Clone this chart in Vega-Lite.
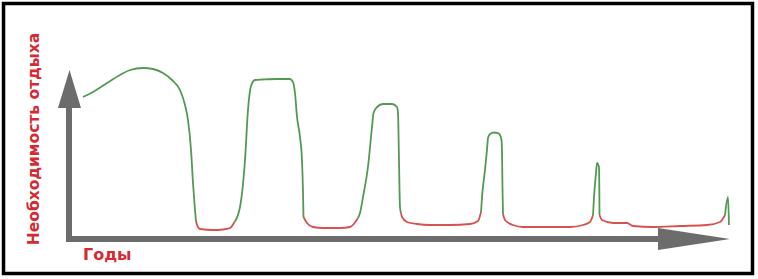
{
  "$schema": "https://vega.github.io/schema/vega-lite/v6.json",
  "width": 758,
  "height": 279,
  "padding": 0,
  "autosize": {"type": "none"},
  "background": "white",
  "view": {"stroke": null},
  "config": {"axis": {"grid": false}},
  "datasets": {
    "frame": [{"x": -9.77, "x2": 103.71, "y": 138.53, "y2": -20.29}],
    "shafts": [
      {"x": 0.15, "x2": 0.15, "y": 0, "y2": 78.8},
      {"x": 0.15, "x2": 90.45, "y": 0, "y2": 0}
    ],
    "headUp": [
      {"y": 77.06, "x": -1.52, "x2": 1.97},
      {"y": 99.41, "x": 0.23, "x2": 0.23}
    ],
    "headRight": [
      {"x": 89.39, "y": -6.47, "y2": 6.47},
      {"x": 100.3, "y": 0, "y2": 0}
    ],
    "curve": [
      {"s": 1, "c": "g", "i": 1, "x": 2.27, "y": 83.53},
      {"s": 1, "c": "g", "i": 2, "x": 3.79, "y": 86.47},
      {"s": 1, "c": "g", "i": 3, "x": 5.91, "y": 91.76},
      {"s": 1, "c": "g", "i": 4, "x": 7.88, "y": 96.47},
      {"s": 1, "c": "g", "i": 5, "x": 9.39, "y": 99.41},
      {"s": 1, "c": "g", "i": 6, "x": 11.36, "y": 100.59},
      {"s": 1, "c": "g", "i": 7, "x": 12.88, "y": 100.0},
      {"s": 1, "c": "g", "i": 8, "x": 14.39, "y": 97.65},
      {"s": 1, "c": "g", "i": 9, "x": 15.76, "y": 93.53},
      {"s": 1, "c": "g", "i": 10, "x": 16.97, "y": 87.65},
      {"s": 1, "c": "g", "i": 11, "x": 17.73, "y": 78.82},
      {"s": 1, "c": "g", "i": 12, "x": 18.18, "y": 70.0},
      {"s": 1, "c": "g", "i": 13, "x": 18.64, "y": 52.35},
      {"s": 1, "c": "g", "i": 14, "x": 18.94, "y": 32.94},
      {"s": 1, "c": "g", "i": 15, "x": 19.24, "y": 17.06},
      {"s": 1, "c": "g", "i": 16, "x": 19.39, "y": 10.59},
      {"s": 2, "c": "r", "i": 16, "x": 19.39, "y": 10.59},
      {"s": 2, "c": "r", "i": 17, "x": 19.55, "y": 8.24},
      {"s": 2, "c": "r", "i": 18, "x": 20.0, "y": 5.88},
      {"s": 2, "c": "r", "i": 19, "x": 21.97, "y": 5.29},
      {"s": 2, "c": "r", "i": 20, "x": 23.48, "y": 5.59},
      {"s": 2, "c": "r", "i": 21, "x": 24.55, "y": 6.47},
      {"s": 2, "c": "r", "i": 22, "x": 25.23, "y": 10.0},
      {"s": 3, "c": "g", "i": 22, "x": 25.23, "y": 10.0},
      {"s": 3, "c": "g", "i": 23, "x": 26.06, "y": 18.82},
      {"s": 3, "c": "g", "i": 24, "x": 26.82, "y": 46.47},
      {"s": 3, "c": "g", "i": 25, "x": 27.27, "y": 75.88},
      {"s": 3, "c": "g", "i": 26, "x": 27.73, "y": 90.0},
      {"s": 3, "c": "g", "i": 27, "x": 28.33, "y": 93.53},
      {"s": 3, "c": "g", "i": 28, "x": 29.55, "y": 93.82},
      {"s": 3, "c": "g", "i": 29, "x": 31.67, "y": 94.12},
      {"s": 3, "c": "g", "i": 30, "x": 33.64, "y": 94.12},
      {"s": 3, "c": "g", "i": 31, "x": 34.09, "y": 92.35},
      {"s": 3, "c": "g", "i": 32, "x": 34.39, "y": 85.88},
      {"s": 3, "c": "g", "i": 33, "x": 34.7, "y": 71.76},
      {"s": 3, "c": "g", "i": 34, "x": 35.15, "y": 60.0},
      {"s": 3, "c": "g", "i": 35, "x": 35.45, "y": 46.47},
      {"s": 3, "c": "g", "i": 36, "x": 35.61, "y": 27.06},
      {"s": 3, "c": "g", "i": 37, "x": 35.68, "y": 12.94},
      {"s": 4, "c": "r", "i": 37, "x": 35.68, "y": 12.94},
      {"s": 4, "c": "r", "i": 38, "x": 36.21, "y": 9.41},
      {"s": 4, "c": "r", "i": 39, "x": 37.12, "y": 7.06},
      {"s": 4, "c": "r", "i": 40, "x": 38.64, "y": 6.47},
      {"s": 4, "c": "r", "i": 41, "x": 41.21, "y": 6.47},
      {"s": 4, "c": "r", "i": 42, "x": 42.73, "y": 7.06},
      {"s": 4, "c": "r", "i": 43, "x": 43.94, "y": 12.35},
      {"s": 5, "c": "g", "i": 43, "x": 43.94, "y": 12.35},
      {"s": 5, "c": "g", "i": 44, "x": 44.24, "y": 15.29},
      {"s": 5, "c": "g", "i": 45, "x": 44.7, "y": 24.71},
      {"s": 5, "c": "g", "i": 46, "x": 45.45, "y": 42.35},
      {"s": 5, "c": "g", "i": 47, "x": 46.06, "y": 65.88},
      {"s": 5, "c": "g", "i": 48, "x": 46.29, "y": 74.12},
      {"s": 5, "c": "g", "i": 49, "x": 46.82, "y": 77.65},
      {"s": 5, "c": "g", "i": 50, "x": 47.73, "y": 79.41},
      {"s": 5, "c": "g", "i": 51, "x": 49.09, "y": 79.41},
      {"s": 5, "c": "g", "i": 52, "x": 49.85, "y": 77.65},
      {"s": 5, "c": "g", "i": 53, "x": 50.0, "y": 74.12},
      {"s": 5, "c": "g", "i": 54, "x": 50.15, "y": 46.47},
      {"s": 5, "c": "g", "i": 55, "x": 50.3, "y": 18.82},
      {"s": 5, "c": "g", "i": 56, "x": 50.45, "y": 15.29},
      {"s": 6, "c": "r", "i": 56, "x": 50.45, "y": 15.29},
      {"s": 6, "c": "r", "i": 57, "x": 50.61, "y": 12.94},
      {"s": 6, "c": "r", "i": 58, "x": 51.36, "y": 10.0},
      {"s": 6, "c": "r", "i": 59, "x": 52.88, "y": 8.82},
      {"s": 6, "c": "r", "i": 60, "x": 54.85, "y": 8.24},
      {"s": 6, "c": "r", "i": 61, "x": 57.88, "y": 8.24},
      {"s": 6, "c": "r", "i": 62, "x": 60.91, "y": 8.82},
      {"s": 6, "c": "r", "i": 63, "x": 62.12, "y": 10.59},
      {"s": 6, "c": "r", "i": 64, "x": 62.58, "y": 15.88},
      {"s": 7, "c": "g", "i": 64, "x": 62.58, "y": 15.88},
      {"s": 7, "c": "g", "i": 65, "x": 62.73, "y": 24.71},
      {"s": 7, "c": "g", "i": 66, "x": 63.18, "y": 40.59},
      {"s": 7, "c": "g", "i": 67, "x": 63.48, "y": 52.35},
      {"s": 7, "c": "g", "i": 68, "x": 63.64, "y": 59.41},
      {"s": 7, "c": "g", "i": 69, "x": 63.94, "y": 61.76},
      {"s": 7, "c": "g", "i": 70, "x": 64.55, "y": 62.65},
      {"s": 7, "c": "g", "i": 71, "x": 65.15, "y": 62.35},
      {"s": 7, "c": "g", "i": 72, "x": 65.45, "y": 61.18},
      {"s": 7, "c": "g", "i": 73, "x": 65.68, "y": 58.24},
      {"s": 7, "c": "g", "i": 74, "x": 65.76, "y": 50.59},
      {"s": 7, "c": "g", "i": 75, "x": 65.83, "y": 30.59},
      {"s": 7, "c": "g", "i": 76, "x": 65.91, "y": 14.71},
      {"s": 8, "c": "r", "i": 76, "x": 65.91, "y": 14.71},
      {"s": 8, "c": "r", "i": 77, "x": 66.21, "y": 11.18},
      {"s": 8, "c": "r", "i": 78, "x": 67.42, "y": 8.24},
      {"s": 8, "c": "r", "i": 79, "x": 68.94, "y": 7.06},
      {"s": 8, "c": "r", "i": 80, "x": 72.58, "y": 7.06},
      {"s": 8, "c": "r", "i": 81, "x": 76.06, "y": 7.06},
      {"s": 8, "c": "r", "i": 82, "x": 78.03, "y": 8.24},
      {"s": 8, "c": "r", "i": 83, "x": 79.09, "y": 10.0},
      {"s": 8, "c": "r", "i": 84, "x": 79.55, "y": 14.12},
      {"s": 9, "c": "g", "i": 84, "x": 79.55, "y": 14.12},
      {"s": 9, "c": "g", "i": 85, "x": 79.7, "y": 24.71},
      {"s": 9, "c": "g", "i": 86, "x": 80.0, "y": 38.82},
      {"s": 9, "c": "g", "i": 87, "x": 80.15, "y": 44.71},
      {"s": 9, "c": "g", "i": 88, "x": 80.45, "y": 42.35},
      {"s": 9, "c": "g", "i": 89, "x": 80.5, "y": 30.59},
      {"s": 9, "c": "g", "i": 90, "x": 80.53, "y": 14.12},
      {"s": 10, "c": "r", "i": 90, "x": 80.53, "y": 14.12},
      {"s": 10, "c": "r", "i": 91, "x": 80.91, "y": 11.18},
      {"s": 10, "c": "r", "i": 92, "x": 82.58, "y": 9.41},
      {"s": 10, "c": "r", "i": 93, "x": 84.7, "y": 9.41},
      {"s": 10, "c": "r", "i": 94, "x": 85.61, "y": 7.65},
      {"s": 10, "c": "r", "i": 95, "x": 88.64, "y": 7.06},
      {"s": 10, "c": "r", "i": 96, "x": 92.73, "y": 7.65},
      {"s": 10, "c": "r", "i": 97, "x": 96.82, "y": 8.24},
      {"s": 10, "c": "r", "i": 98, "x": 98.79, "y": 10.0},
      {"s": 10, "c": "r", "i": 99, "x": 99.55, "y": 14.12},
      {"s": 11, "c": "g", "i": 99, "x": 99.55, "y": 14.12},
      {"s": 11, "c": "g", "i": 100, "x": 100.0, "y": 24.71},
      {"s": 11, "c": "g", "i": 101, "x": 100.15, "y": 8.24}
    ],
    "labels": [
      {"k": "v", "t": "Необходимость отдыха", "x": -4.32, "y": 58.82},
      {"k": "h", "t": "Годы", "x": 2.27, "y": -12.35}
    ]
  },
  "layer": [
    {
      "data": {"name": "frame"},
      "mark": {"type": "rect", "filled": false, "stroke": "#000000", "strokeWidth": 3.5},
      "encoding": {
        "x": {"field": "x", "type": "quantitative", "scale": {"domain": [-10.303, 104.5455], "nice": false, "zero": false}, "axis": null},
        "x2": {"field": "x2"},
        "y": {"field": "y", "type": "quantitative", "scale": {"domain": [-23.5294, 140.5882], "nice": false, "zero": false}, "axis": null},
        "y2": {"field": "y2"}
      }
    },
    {
      "data": {"name": "shafts"},
      "mark": {"type": "rule", "color": "#6c6c6c", "strokeWidth": 6, "strokeCap": "square"},
      "encoding": {
        "x": {"field": "x", "type": "quantitative"},
        "x2": {"field": "x2"},
        "y": {"field": "y", "type": "quantitative"},
        "y2": {"field": "y2"}
      }
    },
    {
      "data": {"name": "headUp"},
      "mark": {"type": "area", "orient": "horizontal", "color": "#6c6c6c", "opacity": 1},
      "encoding": {
        "y": {"field": "y", "type": "quantitative"},
        "x": {"field": "x", "type": "quantitative"},
        "x2": {"field": "x2"}
      }
    },
    {
      "data": {"name": "headRight"},
      "mark": {"type": "area", "orient": "vertical", "color": "#6c6c6c", "opacity": 1},
      "encoding": {
        "x": {"field": "x", "type": "quantitative"},
        "y": {"field": "y", "type": "quantitative"},
        "y2": {"field": "y2"}
      }
    },
    {
      "data": {"name": "curve"},
      "mark": {"type": "line", "strokeWidth": 1.8, "interpolate": "monotone"},
      "encoding": {
        "x": {"field": "x", "type": "quantitative"},
        "y": {"field": "y", "type": "quantitative"},
        "detail": {"field": "s", "type": "nominal"},
        "order": {"field": "i", "type": "quantitative"},
        "color": {"field": "c", "type": "nominal", "scale": {"domain": ["g", "r"], "range": ["#529a52", "#d9514f"]}, "legend": null}
      }
    },
    {
      "data": {"name": "labels"},
      "transform": [{"filter": "datum.k === 'v'"}],
      "mark": {"type": "text", "angle": 270, "align": "center", "baseline": "alphabetic", "font": "DejaVu Sans", "fontWeight": "bold", "fontSize": 15.5, "color": "#d42a33"},
      "encoding": {
        "x": {"field": "x", "type": "quantitative"},
        "y": {"field": "y", "type": "quantitative"},
        "text": {"field": "t"}
      }
    },
    {
      "data": {"name": "labels"},
      "transform": [{"filter": "datum.k === 'h'"}],
      "mark": {"type": "text", "align": "left", "baseline": "alphabetic", "font": "DejaVu Sans", "fontWeight": "bold", "fontSize": 16, "color": "#d42a33"},
      "encoding": {
        "x": {"field": "x", "type": "quantitative"},
        "y": {"field": "y", "type": "quantitative"},
        "text": {"field": "t"}
      }
    }
  ]
}
